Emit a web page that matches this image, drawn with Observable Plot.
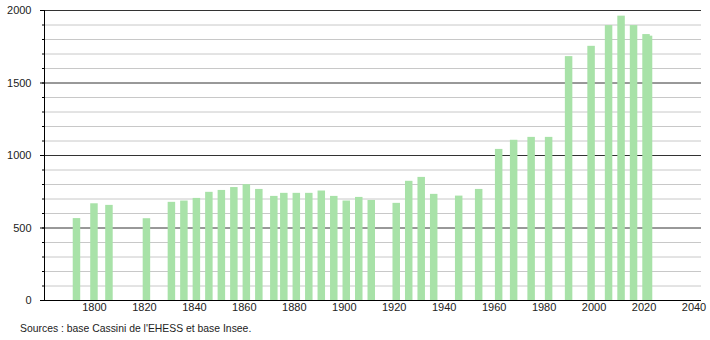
<!DOCTYPE html>
<html>
<head>
<meta charset="utf-8">
<script src="https://cdn.jsdelivr.net/npm/d3@7"></script>
<script src="https://cdn.jsdelivr.net/npm/@observablehq/plot@0.6"></script>
<style>
  body { margin: 0; background: #fff; font-family: "Liberation Sans", Arial, sans-serif; }
  #chart svg { display: block; }
  #caption { font-size: 10.4px; color: #222; margin: 8px 0 0 20px; }
</style>
</head>
<body>
<div id="chart"></div>
<div id="caption">Sources : base Cassini de l'EHESS et base Insee.</div>
<script>
const years = [1793, 1800, 1806, 1821, 1831, 1836, 1841, 1846, 1851, 1856, 1861, 1866, 1872, 1876, 1881, 1886, 1891, 1896, 1901, 1906, 1911, 1921, 1926, 1931, 1936, 1946, 1954, 1962, 1968, 1975, 1982, 1990, 1999, 2006, 2011, 2016, 2021, 2022];
const population = [565, 667, 656, 564, 677, 686, 704, 746, 759, 779, 799, 766, 718, 739, 739, 739, 755, 718, 686, 711, 690, 670, 822, 849, 732, 720, 766, 1042, 1105, 1125, 1125, 1682, 1753, 1896, 1961, 1896, 1834, 1823];
const xTicks = [1800, 1820, 1840, 1860, 1880, 1900, 1920, 1940, 1960, 1980, 2000, 2020, 2040];
const yMajor = [0, 500, 1000, 1500, 2000];
const yMinor = d3.range(0, 2001, 100);

const data = years.map((y, i) => ({year: y, pop: population[i]}));

const chart = Plot.plot({
  width: 710,
  height: 315,
  marginTop: 10,
  marginBottom: 15,
  marginLeft: 44,
  marginRight: 9,
  style: {fontFamily: "'Liberation Sans', Arial, sans-serif", fontSize: "11px", color: "#222", background: "#fff"},
  x: {domain: [1780, 2043], axis: null},
  y: {domain: [0, 2000], axis: null},
  marks: [
    Plot.ruleY(yMinor.filter(v => v % 500 !== 0), {stroke: "#c8c8c8", strokeWidth: 1}),
    Plot.ruleY(yMajor.filter(v => v > 0), {stroke: "#333", strokeWidth: 1}),
    Plot.rectY(data, {x1: d => d.year - 1.5, x2: d => d.year + 1.5, y: "pop", fill: "#a8e2a8"}),
    Plot.axisY(yMinor, {tickSize: 2, text: null, label: null, stroke: "#000"}),
    Plot.axisY(yMajor, {tickSize: 4, tickPadding: 9, label: null, stroke: "#000", fill: "#222", fontSize: 11, tickFormat: d => String(d)}),
    Plot.axisX(xTicks, {tickSize: 0, tickPadding: 3, label: null, fill: "#222", fontSize: 11, tickFormat: d => String(d)}),
    Plot.ruleX([1780], {stroke: "#000"}),
    Plot.ruleY([0], {stroke: "#000"})
  ]
});
document.getElementById("chart").appendChild(chart);
</script>
</body>
</html>
